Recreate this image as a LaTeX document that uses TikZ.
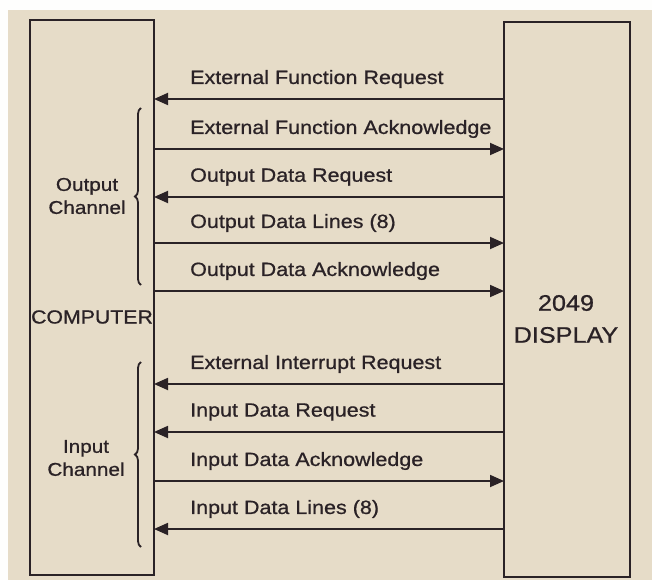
\documentclass[tikz,border=0pt]{standalone}
\usepackage{fontspec}
\setmainfont{Liberation Sans}[FakeStretch=1.12,FakeBold=0.8]
\usetikzlibrary{arrows.meta,decorations.pathreplacing}
\definecolor{paper}{HTML}{E6DCC8}
\definecolor{ink}{HTML}{2A2226}
\tikzset{
  unitbox/.style={draw=ink,line width=1.4bp},
  sig/.style={draw=ink,line width=1.8bp},
  tip/.style={-{Triangle[length=14bp,width=12bp]}},
  lbl/.style={anchor=west,inner sep=0pt,font=\fontsize{19.2bp}{20bp}\selectfont,text=ink},
  side/.style={align=center,inner sep=0pt,font=\fontsize{18.5bp}{23bp}\selectfont,text=ink},
  big/.style={align=center,inner sep=0pt,text=ink},
  brc/.style={draw=ink,line width=1.8bp,decorate,decoration={brace,amplitude=6bp}}
}
\begin{document}
\begin{tikzpicture}[x=1bp,y=-1bp]
\useasboundingbox (0,0) rectangle (652,580);
\fill[white!97!paper] (0,0) rectangle (652,580);
\fill[paper] (8,10) rectangle (652,580);
% boxes
\draw[unitbox] (30,20) rectangle (154,575);
\draw[unitbox] (504,22) rectangle (630,577);
\node[big,font=\fontsize{19bp}{20bp}\selectfont] (comp) at (92,317) {COMPUTER};
\node[big,font=\fontsize{22.5bp}{32bp}\selectfont] (disp) at (566,319) {2049\\DISPLAY};
% signals
\foreach \y/\t/\d [count=\i] in {
  99/External Function Request/l,
  149/External Function Acknowledge/r,
  197/Output Data Request/l,
  243/Output Data Lines (8)/r,
  291/Output Data Acknowledge/r,
  384/External Interrupt Request/l,
  432/Input Data Request/l,
  481/Input Data Acknowledge/r,
  529/Input Data Lines (8)/l}{
  \coordinate (a\i) at (154,\y);
  \coordinate (b\i) at (504,\y);
  \node[lbl] (t\i) at (190,\y-20) {\t};
  \if\d l
    \draw[sig,tip] (b\i) -- (a\i);
  \else
    \draw[sig,tip] (a\i) -- (b\i);
  \fi
}
% channel groups
\node[side] (oc) at (87,196) {Output\\Channel};
\node[side] (ic) at (86,458) {Input\\Channel};
\draw[brc] (141,285) -- (141,108);
\draw[brc] (141,547) -- (141,362);
\end{tikzpicture}
\end{document}
